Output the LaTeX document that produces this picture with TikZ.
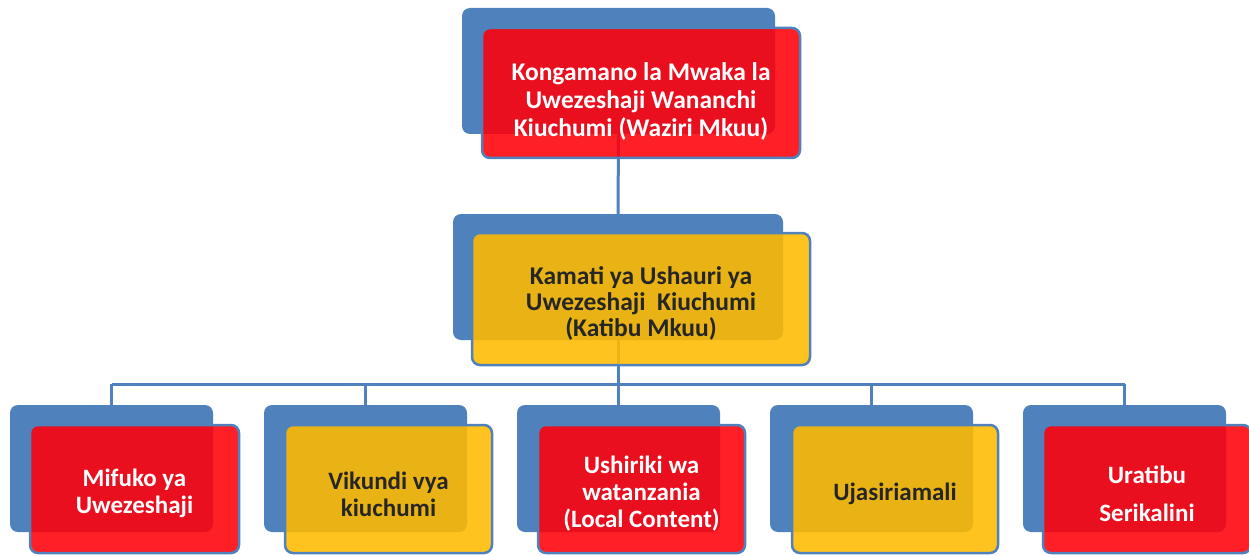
\documentclass[tikz,border=0pt]{standalone}
\usepackage{fontspec}
\setmainfont{Carlito}
\definecolor{bblue}{HTML}{4F81BD}
\definecolor{fred}{RGB}{255,0,8}
\definecolor{fyel}{RGB}{255,187,0}
\begin{document}
\begin{tikzpicture}[x=1pt,y=-1pt,
  back/.style={rectangle, rounded corners=8pt, fill=bblue, draw=none, anchor=north west, inner sep=0pt, outer sep=0pt},
  front/.style={rectangle, rounded corners=8pt, draw=bblue, line width=2.5pt, fill opacity=0.88, anchor=north west, inner sep=0pt, outer sep=0pt},
  redbox/.style={front, fill=fred},
  yelbox/.style={front, fill=fyel},
  lbl/.style={align=center, inner sep=0pt, font=\fontsize{25}{27}\selectfont\bfseries},
  wlbl/.style={lbl, text=white},
  klbl/.style={lbl, text=black!85},
  conn/.style={draw=bblue, line width=3pt}]
\useasboundingbox (0,0) rectangle (1249,556);
% back rectangles
\node[back, minimum width=313pt, minimum height=126pt] (b1) at (462,8) {};
\node[back, minimum width=330pt, minimum height=126pt] (b2) at (453,214) {};
\node[back, minimum width=203pt, minimum height=127pt] (c1) at (10,405) {};
\node[back, minimum width=203pt, minimum height=127pt] (c2) at (264,405) {};
\node[back, minimum width=203pt, minimum height=127pt] (c3) at (517,405) {};
\node[back, minimum width=203pt, minimum height=127pt] (c4) at (770,405) {};
\node[back, minimum width=203pt, minimum height=127pt] (c5) at (1023,405) {};
% connectors
\coordinate (bus) at (618,384);
\draw[conn] (b1.south) -- (b2.north);
\draw[conn] (b2.south) -- (b2.south |- bus);
\draw[conn] (c1.north |- bus) -- (c5.north |- bus);
\foreach \i in {1,...,5} { \draw[conn] (c\i.north |- bus) -- (c\i.north); }
% front boxes
\node[redbox, minimum width=318pt, minimum height=130pt] (f1) at (482,28) {};
\node[yelbox, minimum width=338pt, minimum height=132pt] (f2) at (472,233) {};
\node[redbox, minimum width=209pt, minimum height=128pt] (g1) at (30,425) {};
\node[yelbox, minimum width=207pt, minimum height=128pt] (g2) at (285,425) {};
\node[redbox, minimum width=207pt, minimum height=128pt] (g3) at (538,425) {};
\node[yelbox, minimum width=206pt, minimum height=128pt] (g4) at (792,425) {};
\node[redbox, minimum width=208pt, minimum height=128pt] (g5) at (1043,425) {};
% labels
\node[wlbl, font=\fontsize{25.5}{28}\selectfont\bfseries] (t1) at ([yshift=-8pt]f1.center) {Kongamano la Mwaka la\\Uwezeshaji Wananchi\\Kiuchumi (Waziri Mkuu)};
\node[klbl, font=\fontsize{25.5}{26}\selectfont\bfseries] (t2) at ([yshift=-4pt]f2.center) {Kamati ya Ushauri ya\\Uwezeshaji~~Kiuchumi\\(Katibu Mkuu)};
\node[wlbl] (u1) at ([yshift=-4pt]g1.center) {Mifuko ya\\Uwezeshaji};
\node[klbl] (u2) at ([yshift=-5pt]g2.center) {Vikundi vya\\kiuchumi};
\node[wlbl] (u3) at ([yshift=-5pt]g3.center) {Ushiriki wa\\watanzania\\(Local Content)};
\node[klbl] (u4) at ([yshift=-5pt]g4.center) {Ujasiriamali};
\node[wlbl] (u5) at ([yshift=-5pt]g5.center) {Uratibu\\[11pt]Serikalini};
\end{tikzpicture}
\end{document}
